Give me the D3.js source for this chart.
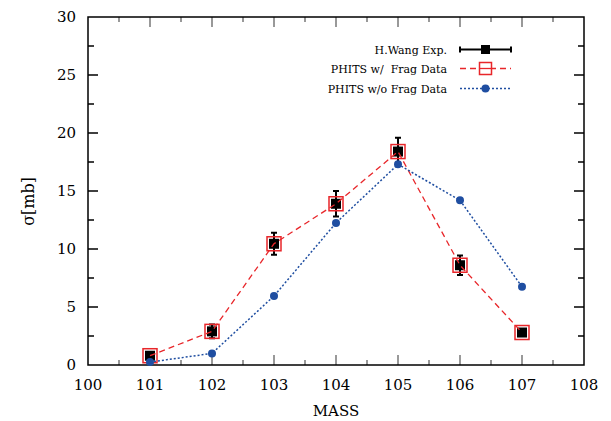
<!DOCTYPE html>
<html lang="en">
<head>
    <meta charset="UTF-8">
    <title>D3</title>
    <style>
        body { margin: 0; background: #fff; }
        text { font-family: "DejaVu Serif", serif; fill: #000; }
    </style>
</head>
<body>
    <div class="canvas"></div>

    <script src="https://cdnjs.cloudflare.com/ajax/libs/d3/7.8.5/d3.min.js"></script>
    <script>
        const mass = [101, 102, 103, 104, 105, 106, 107];
        const expValues = [0.8, 2.9, 10.45, 13.9, 18.4, 8.6, 2.8];
        const expErrors = [0.25, 0.6, 0.95, 1.1, 1.2, 0.85, 0.3];
        const withFrag = [0.8, 2.9, 10.45, 13.9, 18.4, 8.6, 2.8];
        const withoutFrag = [0.25, 1.0, 5.95, 12.25, 17.3, 14.2, 6.75];
        const xTicks = [100, 101, 102, 103, 104, 105, 106, 107, 108];
        const yTicks = [0, 5, 10, 15, 20, 25, 30];
        const legendLabels = ["H.Wang Exp.", "PHITS w/  Frag Data", "PHITS w/o Frag Data"];

        const width = 611, height = 421;
        const m = { top: 17, right: 27, bottom: 56, left: 88 };

        const svg = d3.select(".canvas").append("svg")
            .attr("width", width)
            .attr("height", height);

        const x = d3.scaleLinear().domain([100, 108]).range([m.left, width - m.right]);
        const y = d3.scaleLinear().domain([0, 30]).range([height - m.bottom, m.top]);

        const red = "#e8262a", blue = "#1f4ea1";

        // ticks (inward)
        const xMinor = d3.range(100.5, 108, 1);
        const yMinor = d3.range(2.5, 30, 5);
        const tickG = svg.append("g");
        const x0 = x(100), x1 = x(108), y0 = y(0), y1 = y(30);
        xTicks.slice(1, -1).forEach(t => {
            tickG.append("line").attr("x1", x(t)).attr("x2", x(t)).attr("y1", y0).attr("y2", y0 - 10).attr("stroke", "#777").attr("stroke-width", 1.5);
            tickG.append("line").attr("x1", x(t)).attr("x2", x(t)).attr("y1", y1).attr("y2", y1 + 10).attr("stroke", "#777").attr("stroke-width", 1.5);
        });
        xMinor.forEach(t => {
            tickG.append("line").attr("x1", x(t)).attr("x2", x(t)).attr("y1", y0).attr("y2", y0 - 5).attr("stroke", "#777").attr("stroke-width", 1.5);
            tickG.append("line").attr("x1", x(t)).attr("x2", x(t)).attr("y1", y1).attr("y2", y1 + 5).attr("stroke", "#777").attr("stroke-width", 1.5);
        });
        yTicks.slice(1, -1).forEach(t => {
            tickG.append("line").attr("x1", x0).attr("x2", x0 + 10).attr("y1", y(t)).attr("y2", y(t)).attr("stroke", "#000").attr("stroke-width", 1.5);
            tickG.append("line").attr("x1", x1).attr("x2", x1 - 10).attr("y1", y(t)).attr("y2", y(t)).attr("stroke", "#000").attr("stroke-width", 1.5);
        });
        yMinor.forEach(t => {
            tickG.append("line").attr("x1", x0).attr("x2", x0 + 6).attr("y1", y(t)).attr("y2", y(t)).attr("stroke", "#000").attr("stroke-width", 1.5);
            tickG.append("line").attr("x1", x1).attr("x2", x1 - 6).attr("y1", y(t)).attr("y2", y(t)).attr("stroke", "#000").attr("stroke-width", 1.5);
        });

        // frame
        svg.append("rect")
            .attr("x", x0).attr("y", y1)
            .attr("width", x1 - x0).attr("height", y0 - y1)
            .attr("fill", "none").attr("stroke", "#000").attr("stroke-width", 1.5);

        // tick labels
        svg.append("g").selectAll("text")
            .data(xTicks)
            .join("text")
                .attr("x", d => x(d))
                .attr("y", y0 + 25)
                .attr("text-anchor", "middle")
                .attr("font-size", 15)
                .text(d => d);
        svg.append("g").selectAll("text")
            .data(yTicks)
            .join("text")
                .attr("x", x0 - 12)
                .attr("y", d => y(d) + 5)
                .attr("text-anchor", "end")
                .attr("font-size", 15)
                .text(d => d);

        svg.append("text")
            .attr("x", x(104))
            .attr("y", 416)
            .attr("text-anchor", "middle")
            .attr("font-size", 15)
            .text("MASS");
        svg.append("text")
            .attr("transform", `translate(34,${y(14.1)}) rotate(-90)`)
            .attr("text-anchor", "middle")
            .attr("font-size", 16)
            .text("σ[mb]");

        const expData = mass.map((d, i) => ({ m: d, v: expValues[i], e: expErrors[i] }));
        const redData = mass.map((d, i) => ({ m: d, v: withFrag[i] }));
        const blueData = mass.map((d, i) => ({ m: d, v: withoutFrag[i] }));
        const line = d3.line().x(d => x(d.m)).y(d => y(d.v));

        // experiment
        const eg = svg.append("g");
        eg.selectAll(".err")
            .data(expData)
            .join("path")
                .attr("d", d => {
                    const cx = x(d.m), t = y(d.v + d.e), b = y(d.v - d.e);
                    return `M${cx},${t}V${b}M${cx - 3},${t}H${cx + 3}M${cx - 3},${b}H${cx + 3}`;
                })
                .attr("stroke", "#000").attr("stroke-width", 2).attr("fill", "none");
        eg.selectAll("rect")
            .data(expData)
            .join("rect")
                .attr("x", d => x(d.m) - 5)
                .attr("y", d => y(d.v) - 5)
                .attr("width", 10).attr("height", 10)
                .attr("fill", "#000");

        // PHITS with frag data
        svg.append("path")
            .datum(redData)
            .attr("d", line)
            .attr("fill", "none").attr("stroke", red)
            .attr("stroke-width", 1.3).attr("stroke-dasharray", "6,4");
        svg.append("g").selectAll("rect")
            .data(redData)
            .join("rect")
                .attr("x", d => x(d.m) - 7)
                .attr("y", d => y(d.v) - 7)
                .attr("width", 14).attr("height", 14)
                .attr("fill", "none").attr("stroke", red).attr("stroke-width", 1.5);

        // PHITS without frag data
        svg.append("path")
            .datum(blueData)
            .attr("d", line)
            .attr("fill", "none").attr("stroke", blue)
            .attr("stroke-width", 1.5).attr("stroke-dasharray", "2,2");
        svg.append("g").selectAll("circle")
            .data(blueData)
            .join("circle")
                .attr("cx", d => x(d.m))
                .attr("cy", d => y(d.v))
                .attr("r", 4)
                .attr("fill", blue);

        // legend
        const lg = svg.append("g");
        const ly = [49.5, 68.5, 88.5];
        const lx0 = 460, lx1 = 511, lxc = 485.5;
        lg.selectAll("text")
            .data(legendLabels)
            .join("text")
                .attr("x", 447)
                .attr("y", (d, i) => ly[i] + 4)
                .attr("text-anchor", "end")
                .attr("font-size", 11)
                .attr("xml:space", "preserve")
                .style("white-space", "pre")
                .text(d => d);
        lg.append("path")
            .attr("d", `M${lx0},${ly[0]}H${lx1}M${lx0},${ly[0] - 3}V${ly[0] + 3}M${lx1},${ly[0] - 3}V${ly[0] + 3}`)
            .attr("stroke", "#000").attr("stroke-width", 2).attr("fill", "none");
        lg.append("rect").attr("x", lxc - 4.5).attr("y", ly[0] - 4.5).attr("width", 9).attr("height", 9).attr("fill", "#000");
        lg.append("path")
            .attr("d", `M${lx0},${ly[1]}H${lx1}`)
            .attr("stroke", red).attr("stroke-width", 1.3).attr("stroke-dasharray", "6,4").attr("fill", "none");
        lg.append("rect").attr("x", lxc - 6).attr("y", ly[1] - 6).attr("width", 12).attr("height", 12)
            .attr("fill", "#fff").attr("stroke", red).attr("stroke-width", 1.5);
        lg.append("path")
            .attr("d", `M${lxc - 6},${ly[1]}H${lxc + 6}`)
            .attr("stroke", red).attr("stroke-width", 1.3);
        lg.append("path")
            .attr("d", `M${lx0},${ly[2]}H${lx1}`)
            .attr("stroke", blue).attr("stroke-width", 1.5).attr("stroke-dasharray", "2,2").attr("fill", "none");
        lg.append("circle").attr("cx", lxc).attr("cy", ly[2]).attr("r", 4).attr("fill", blue);
    </script>
</body>
</html>
